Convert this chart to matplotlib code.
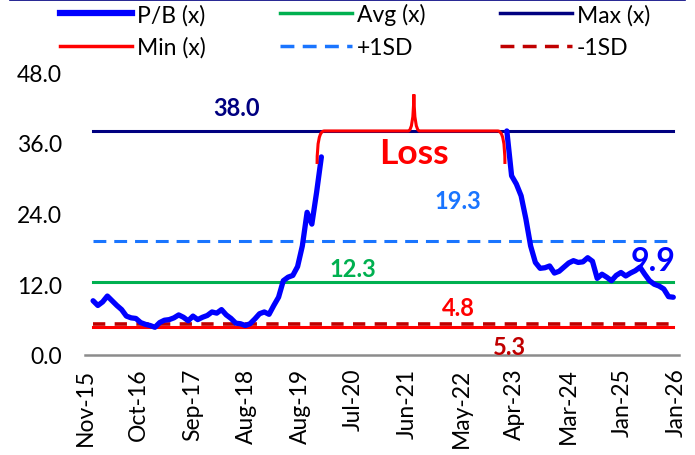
import matplotlib
matplotlib.use("Agg")
import matplotlib.pyplot as plt
import numpy as np
from matplotlib.path import Path
from matplotlib.patches import PathPatch
from matplotlib.lines import Line2D

plt.rcParams['font.family'] = ['Lato', 'DejaVu Sans']

# ---- data ----
tick_labels = ["Nov-15", "Oct-16", "Sep-17", "Aug-18", "Aug-19", "Jul-20",
               "Jun-21", "May-22", "Apr-23", "Mar-24", "Jan-25", "Jan-26"]
# monthly P/B, Nov-15 .. Nov-19 (month index 0..48)
pb_pre = [9.2, 8.4, 9.0, 10.0, 9.2, 8.4, 7.7, 6.6, 6.3, 6.2, 5.5, 5.2, 5.0, 4.7,
          5.5, 5.9, 6.0, 6.3, 6.8, 6.4, 5.8, 6.6, 6.0, 6.4, 6.7, 7.3, 7.1, 7.7,
          6.8, 6.2, 5.4, 5.3, 5.0, 5.3, 6.1, 7.0, 7.3, 6.9, 8.4, 9.8, 12.6, 13.2,
          13.5, 15.0, 18.5, 24.2, 22.2, 27.6, 33.6]
pre_start = 0
# monthly P/B, Feb-23 .. Jan-26 (month index 87..122)
pb_post = [38.0, 30.4, 29.0, 27.0, 23.1, 18.5, 15.7, 14.7, 14.8, 15.1, 13.9, 14.2,
           14.9, 15.6, 16.0, 15.7, 15.8, 16.5, 15.9, 13.0, 13.7, 13.2, 12.6, 13.5,
           14.0, 13.4, 13.9, 14.3, 14.9, 13.7, 12.6, 12.0, 11.7, 11.2, 9.9, 9.8]
post_start = 87
n_months = 123

avg_v = 12.3
max_v = 38.0
min_v = 4.8
sd_plus = 19.3
sd_minus = 5.3
last_v = 9.9

# ---- figure ----
fig = plt.figure(figsize=(6.95, 4.56), dpi=100)
ax = fig.add_axes([85/695, 1-356/456, (679-85)/695, (356-73)/456])

x_pre = np.arange(pre_start, pre_start + len(pb_pre))
x_post = np.arange(post_start, post_start + len(pb_post))
x0, x1 = 0, n_months - 1

c_pb = "#0000FF"
c_avg = "#00B050"
c_max = "#000080"
c_min = "#FF0000"
c_sdp = "#1A75FF"
c_sdm = "#C00000"

dash = (0, (4.2, 2.6))
ax.plot([x0, x1], [max_v, max_v], color=c_max, lw=2.2, zorder=2)
ax.plot([x0, x1], [avg_v, avg_v], color=c_avg, lw=2.2, zorder=2)
ax.plot([x0, x1], [min_v, min_v], color=c_min, lw=2.2, zorder=2)
ax.plot([x0, x1], [sd_plus, sd_plus], color=c_sdp, lw=2.2, ls=dash, zorder=2)
ax.plot([x0, x1], [sd_minus, sd_minus], color=c_sdm, lw=2.6, ls=(0, (3.4, 2.6)), zorder=3)
ax.plot(x_pre, pb_pre, color=c_pb, lw=3.8, solid_capstyle='round', solid_joinstyle='round', zorder=4)
ax.plot(x_post, pb_post, color=c_pb, lw=3.8, solid_capstyle='round', solid_joinstyle='round', zorder=4)

# "Loss" brace
bx_l, bx_r = pre_start + len(pb_pre) - 1.9, post_start - 0.4
bmid = (bx_l + bx_r) / 2 + 0.6
ylo, yhi, ytip = 32.4, max_v, 44.2
verts = [(bx_l, ylo), (bx_l, yhi), (bx_l + 1.5, yhi),
         (bmid - 1.2, yhi),
         (bmid - 0.1, yhi), (bmid, ytip),
         (bmid + 0.1, yhi), (bmid + 1.2, yhi),
         (bx_r - 1.5, yhi),
         (bx_r, yhi), (bx_r, ylo)]
codes = [Path.MOVETO, Path.CURVE3, Path.CURVE3,
         Path.LINETO,
         Path.CURVE3, Path.CURVE3,
         Path.CURVE3, Path.CURVE3,
         Path.LINETO,
         Path.CURVE3, Path.CURVE3]
ax.add_patch(PathPatch(Path(verts, codes), fill=False, edgecolor=c_min, lw=2.2, zorder=5,
                       capstyle='butt'))
ax.text(bmid, 34.2, "Loss", color=c_min, fontsize=25.5, fontweight='bold', ha='center', va='center')

# value labels
lab_fs = 17
ax.text(30.2, 41.9, f"{max_v:.1f}", color=c_max, fontsize=lab_fs, fontweight='bold', ha='center', va='center')
ax.text(76.6, 26.2, f"{sd_plus:.1f}", color=c_sdp, fontsize=lab_fs, fontweight='bold', ha='center', va='center')
ax.text(54.7, 14.6, f"{avg_v:.1f}", color=c_avg, fontsize=lab_fs, fontweight='bold', ha='center', va='center')
ax.text(76.8, 8.1, f"{min_v:.1f}", color=c_min, fontsize=lab_fs, fontweight='bold', ha='center', va='center')
ax.text(87.5, 1.5, f"{sd_minus:.1f}", color=c_sdm, fontsize=lab_fs, fontweight='bold', ha='center', va='center')
ax.text(117.8, 16.0, f"{last_v:.1f}", color=c_pb, fontsize=23, fontweight='bold', ha='center', va='center')

# axes
fs = 16.5
ax.set_ylim(0, 48)
ax.set_xlim(-1.6, 123.2)
ax.set_yticks([0, 12, 24, 36, 48])
ax.set_yticklabels(["0.0", "12.0", "24.0", "36.0", "48.0"], fontsize=fs)
ax.set_xticks(np.linspace(-1.7, 122.6, len(tick_labels)))
ax.set_xticklabels(tick_labels, rotation=90, fontsize=fs)
ax.tick_params(axis='both', length=0)
ax.tick_params(axis='x', pad=9)
ax.tick_params(axis='y', pad=16.5)
for t in ax.get_yticklabels():
    t.set_horizontalalignment('right')
for s in ['top', 'right', 'left']:
    ax.spines[s].set_visible(False)
ax.spines['bottom'].set_color('#8C8C8C')
ax.spines['bottom'].set_linewidth(1.8)
ax.patch.set_alpha(0)

# legend
handles = [Line2D([], [], color=c_pb, lw=4.5),
           Line2D([], [], color=c_min, lw=2.5),
           Line2D([], [], color=c_avg, lw=2.5),
           Line2D([], [], color=c_sdp, lw=2.5, ls=(0, (4.0, 2.4))),
           Line2D([], [], color=c_max, lw=2.5),
           Line2D([], [], color=c_sdm, lw=2.5, ls=(0, (4.0, 2.4)))]
labels = ["P/B (x)", "Min (x)", "Avg (x)", "+1SD", "Max (x)", "-1SD"]
fig.legend(handles, labels, ncol=3, loc='upper left', bbox_to_anchor=(60/695, 1 - 4/456),
           frameon=False, fontsize=fs, handlelength=3.15, handletextpad=0.2,
           columnspacing=3.25, labelspacing=0.5, borderpad=0, borderaxespad=0)

fig.add_artist(Line2D([0.015, 0.985], [0.998, 0.998], color=c_max, lw=1.2))

fig.savefig("out.png", dpi=100)
